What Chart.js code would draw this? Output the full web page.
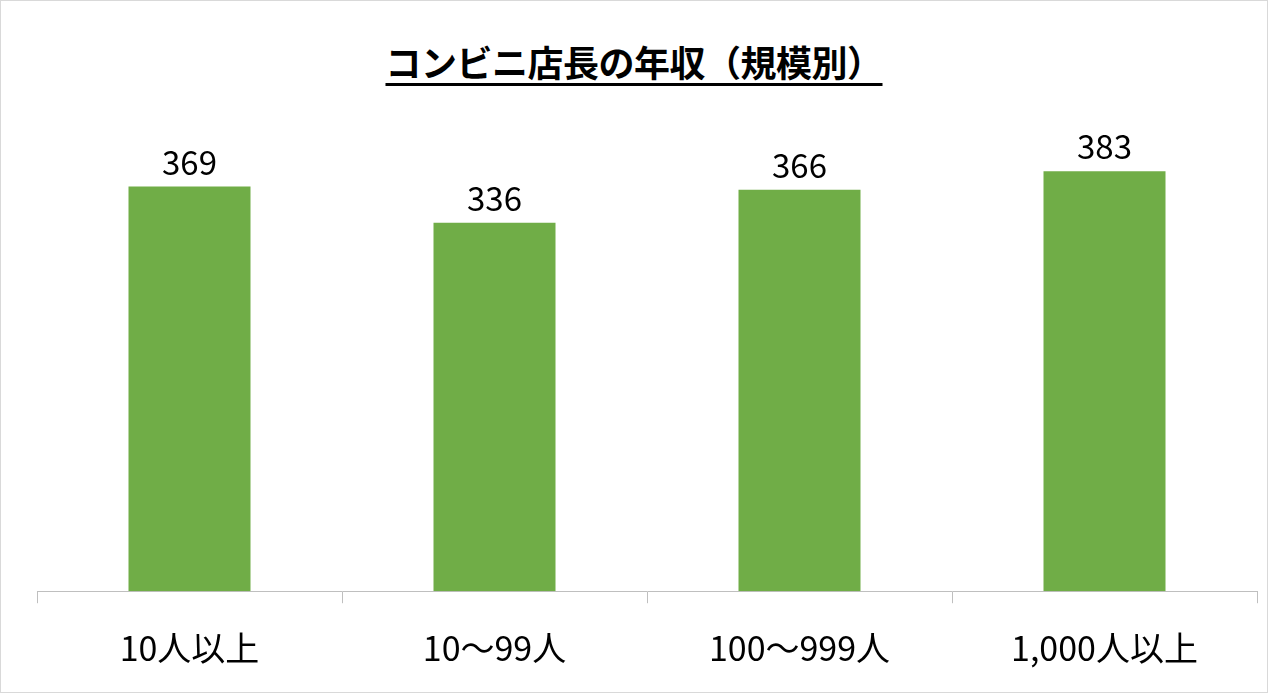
<!DOCTYPE html>
<html><head><meta charset="utf-8">
<script src="https://cdn.jsdelivr.net/npm/chart.js@4"></script>
<style>
html,body{margin:0;padding:0;background:#fff;}
#wrap{position:relative;width:1266px;height:691px;border:1px solid #d9d9d9;}
#title{position:absolute;top:34px;left:0;width:100%;text-align:center;font:bold 36px "Noto Sans CJK JP";text-decoration:underline;text-underline-offset:6px;color:#000;letter-spacing:-0.5px;}
canvas{position:absolute;left:0;top:0;}
</style></head><body>
<div id="wrap"><div id="title">コンビニ店長の年収（規模別）</div><canvas id="c" width="1266" height="691"></canvas></div>
<script>
const categories = ['10人以上', '10～99人', '100～999人', '1,000人以上'];
const salaries = [369, 336, 366, 383];

const labelPlugin = {
    id: 'barLabels',
    afterDatasetsDraw(chart) {
        const ctx = chart.ctx;
        ctx.save();
        ctx.font = '33px "Noto Sans CJK JP"';
        ctx.fillStyle = '#000';
        ctx.textAlign = 'center';
        ctx.textBaseline = 'bottom';
        chart.getDatasetMeta(0).data.forEach((bar, i) => {
            ctx.fillText(salaries[i], bar.x, bar.y - 8);
        });
        ctx.restore();
    }
};

new Chart(document.getElementById('c'), {
    type: 'bar',
    data: {
        labels: categories,
        datasets: [{ data: salaries, backgroundColor: '#70AD47', barPercentage: 0.4, categoryPercentage: 1 }]
    },
    options: {
        responsive: false,
        animation: false,
        layout: { padding: { left: 36, right: 10, top: 100, bottom: 0 } },
        plugins: { legend: { display: false }, tooltip: { enabled: false } },
        scales: {
            x: {
                grid: { offset: true, drawOnChartArea: false, drawTicks: true, tickLength: 12, color: '#bfbfbf' },
                border: { color: '#bfbfbf' },
                ticks: { color: '#000', padding: 24, font: { size: 34, family: '"Noto Sans CJK JP"' } }
            },
            y: { display: false, min: 0, max: 447 }
        }
    },
    plugins: [labelPlugin]
});
</script>
</body></html>
